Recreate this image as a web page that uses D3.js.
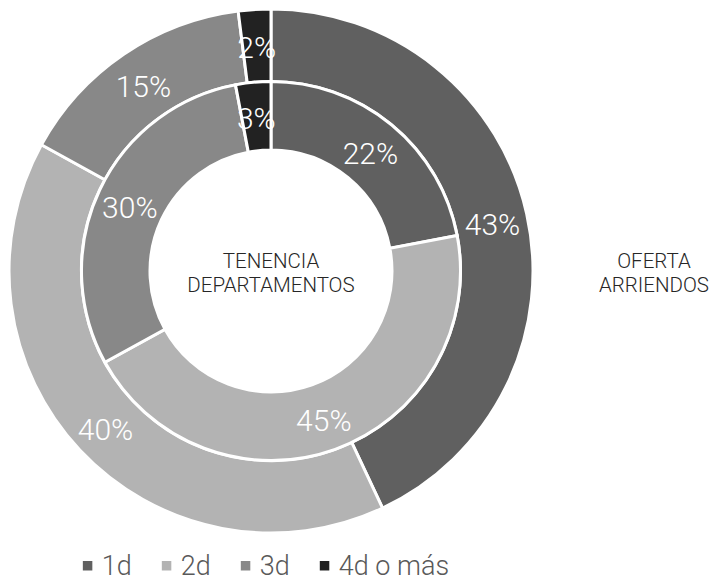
<!DOCTYPE html>
<html><head><meta charset="utf-8">
<script src="https://cdn.jsdelivr.net/npm/d3@7"></script>
<style>body{margin:0;background:#fff}svg{display:block;font-family:Roboto,"Open Sans",sans-serif}</style>
</head><body><svg id="c" width="714" height="581"></svg>
<script>
const categories = ["1d", "2d", "3d", "4d o más"];
const colors = ["#606060", "#b3b3b3", "#888888", "#222222"];
const tenencia = [22, 45, 30, 3];   // inner ring
const oferta = [43, 40, 15, 2];     // outer ring
const innerTitle = ["TENENCIA", "DEPARTAMENTOS"];
const outerTitle = ["OFERTA", "ARRIENDOS"];

const svg = d3.select("#c");
const cx = 271, cy = 271;
const g = svg.append("g").attr("transform", `translate(${cx},${cy})`);
const pie = d3.pie().sort(null).value(d => d.v);

function ring(vals, r0, r1, rl) {
  const data = pie(vals.map((v, i) => ({v, i})));
  const arc = d3.arc().innerRadius(r0).outerRadius(r1);
  const la = d3.arc().innerRadius(rl).outerRadius(rl);
  g.selectAll(null).data(data).enter().append("path")
    .attr("d", arc).attr("fill", d => colors[d.data.i])
    .attr("stroke", "#fff").attr("stroke-width", 3).attr("stroke-linejoin", "miter");
  g.selectAll(null).data(data).enter().append("text")
    .attr("transform", d => `translate(${la.centroid(d)})`)
    .attr("text-anchor", "middle").attr("dy", "0.45em")
    .attr("font-size", 30).attr("font-weight", 300).attr("fill", "#fff")
    .text(d => d.data.v + "%");
}
ring(oferta, 189.5, 262, 227);
ring(tenencia, 121, 189.5, 156);

function title(lines, x) {
  const t = svg.append("text").attr("text-anchor", "middle")
    .attr("font-size", 20.5).attr("font-weight", 300).attr("fill", "#262626");
  lines.forEach((l, i) => t.append("tspan").attr("x", x).attr("y", 268 + i * 24).text(l));
}
title(innerTitle, cx);
title(outerTitle, 654);

// legend
const lg = svg.append("g");
let x = 0;
categories.forEach((c, i) => {
  lg.append("rect").attr("x", x).attr("y", 561).attr("width", 9.5).attr("height", 9.5).attr("fill", colors[i]);
  const t = lg.append("text").attr("x", x + 19).attr("y", 575)
    .attr("font-size", 27).attr("font-weight", 300).attr("fill", "#595959").text(c);
  x += 19 + t.node().getComputedTextLength() + (i < categories.length - 1 ? 30 : 0);
});
lg.attr("transform", `translate(${266 - x / 2},0)`);
</script></body></html>
